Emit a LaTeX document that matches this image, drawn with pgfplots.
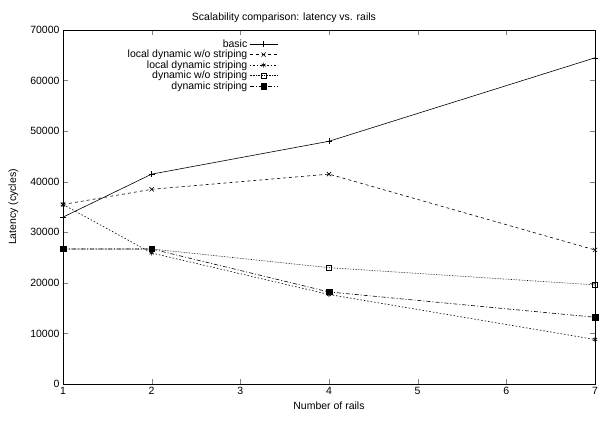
\documentclass[border=0pt]{standalone}
\usepackage{pgfplots}
\pgfplotsset{compat=1.18}
\usepackage{fontspec}
\setmainfont{Liberation Sans}
\begin{document}
\begin{tikzpicture}
\path[use as bounding box] (0,0) rectangle (600pt,423pt);
\begin{axis}[
  at={(63pt,39pt)}, anchor=south west,
  scale only axis, width=532pt, height=354pt,
  xmin=1, xmax=7, ymin=0, ymax=70000,
  xtick={1,...,7}, ytick={0,10000,...,70000},
  tick align=inside, major tick length=5pt,
  scaled y ticks=false,
  /pgf/number format/assume math mode=true,
  /pgf/number format/set thousands separator={},
  tick label style={font=\fontsize{10.5}{12}\selectfont},
  label style={font=\fontsize{10.5}{12}\selectfont},
  ylabel style={yshift=5pt},
  title style={font=\fontsize{10.5}{12}\selectfont, yshift=-2pt, xshift=-45pt},
  title={Scalability comparison: latency vs. rails},
  xlabel={Number of rails}, ylabel={Latency (cycles)},
  axis line style={line width=0.8pt},
  every axis plot/.append style={line width=0.6pt, black},
  legend style={draw=none, fill=none, at={(0.41,0.985)}, anchor=north east,
    font=\fontsize{10.5}{12}\selectfont, row sep=-2.6pt},
  legend cell align=right, legend plot pos=right,
  legend image code/.code={\draw[mark repeat=2,mark phase=2] plot coordinates {(0pt,0pt) (14pt,0pt) (28pt,0pt)};},
]
\addplot[solid, mark=+, mark size=3pt] coordinates {(1,33000) (2,41500) (4,48000) (7,64500)};
\addlegendentry{basic}
\addplot[dashed, mark=x, mark size=3pt, mark options={solid}] coordinates {(1,35500) (2,38500) (4,41500) (7,26500)};
\addlegendentry{local dynamic w/o striping}
\addplot[dash pattern=on 1.5pt off 2pt, mark=asterisk, mark size=2.5pt, mark options={solid}] coordinates {(1,35500) (2,25900) (4,17700) (7,8800)};
\addlegendentry{local dynamic striping}
\addplot[densely dotted, mark=square, mark size=2.5pt, mark options={solid}] coordinates {(1,26700) (2,26700) (4,23000) (7,19600)};
\addlegendentry{dynamic w/o striping}
\addplot[dash pattern=on 4pt off 2pt on 1pt off 2pt, mark=square*, mark size=2.8pt, mark options={solid}] coordinates {(1,26700) (2,26700) (4,18200) (7,13200)};
\addlegendentry{dynamic striping}
\end{axis}
\end{tikzpicture}
\end{document}
